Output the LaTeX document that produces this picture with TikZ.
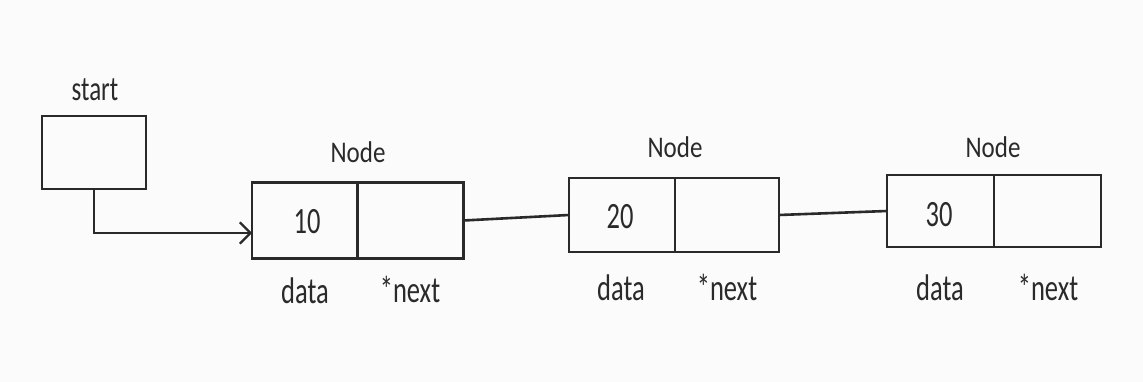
\documentclass[tikz,border=0pt]{standalone}
\usepackage{fontspec}
\setmainfont{Carlito}
\usetikzlibrary{arrows.meta,calc}
\definecolor{ink}{HTML}{2A2A2A}
\definecolor{paper}{HTML}{FBFBFB}
\begin{document}
\begin{tikzpicture}[x=1pt,y=-1pt,
  cell/.style={draw=ink,line width=2.6pt,minimum width=106pt,minimum height=76pt,inner sep=0pt,outer sep=0pt,anchor=center},
  lbl/.style={text=ink,inner sep=0pt,font=\fontsize{26.5}{26.5}\selectfont,yscale=1.4},
  ttl/.style={text=ink,inner sep=0pt,font=\fontsize{25}{25}\selectfont,yscale=1.2},
  link/.style={draw=ink,line width=2.6pt},
  ptr/.style={draw=ink,line width=2.2pt,-{Straight Barb[scale=1.8]}}]
\fill[paper] (0,0) rectangle (1143,382);
\useasboundingbox (0,0) rectangle (1143,382);
% start pointer
\node[cell,minimum width=104pt,minimum height=73pt] (start) at (94,152.5) {};
\node[ttl,yscale=1.15] (startlbl) at (95,90) {start};
% node 1
\node[cell] (n1d) at (305,220.5) {};
\node[cell] (n1n) at (410.5,220.5) {};
\node[lbl] (v1) at (307,222) {10};
\node[ttl] (t1) at (358,152) {Node};
\node[lbl] (d1) at (305,291) {data};
\node[lbl] (p1) at (410,289) {*next};
% node 2
\node[cell,minimum height=74pt] (n2d) at (622,215) {};
\node[cell,minimum height=74pt,minimum width=104pt] (n2n) at (727,215) {};
\node[lbl] (v2) at (620,217) {20};
\node[ttl] (t2) at (675,147) {Node};
\node[lbl] (d2) at (621,288) {data};
\node[lbl] (p2) at (727,287) {*next};
% node 3
\node[cell,minimum height=72pt,minimum width=107pt] (n3d) at (940.5,211) {};
\node[cell,minimum height=72pt,minimum width=107pt] (n3n) at (1047.5,211) {};
\node[lbl] (v3) at (939,215) {30};
\node[ttl] (t3) at (993,147) {Node};
\node[lbl] (d3) at (940,288) {data};
\node[lbl] (p3) at (1048,287) {*next};
% connectors
\coordinate (tip) at (252,233);
\draw[ptr] (start.south) |- (tip);
\draw[link] (n1n.east) -- (n2d.west);
\draw[link] (n2n.east) -- (n3d.west);
\end{tikzpicture}
\end{document}
